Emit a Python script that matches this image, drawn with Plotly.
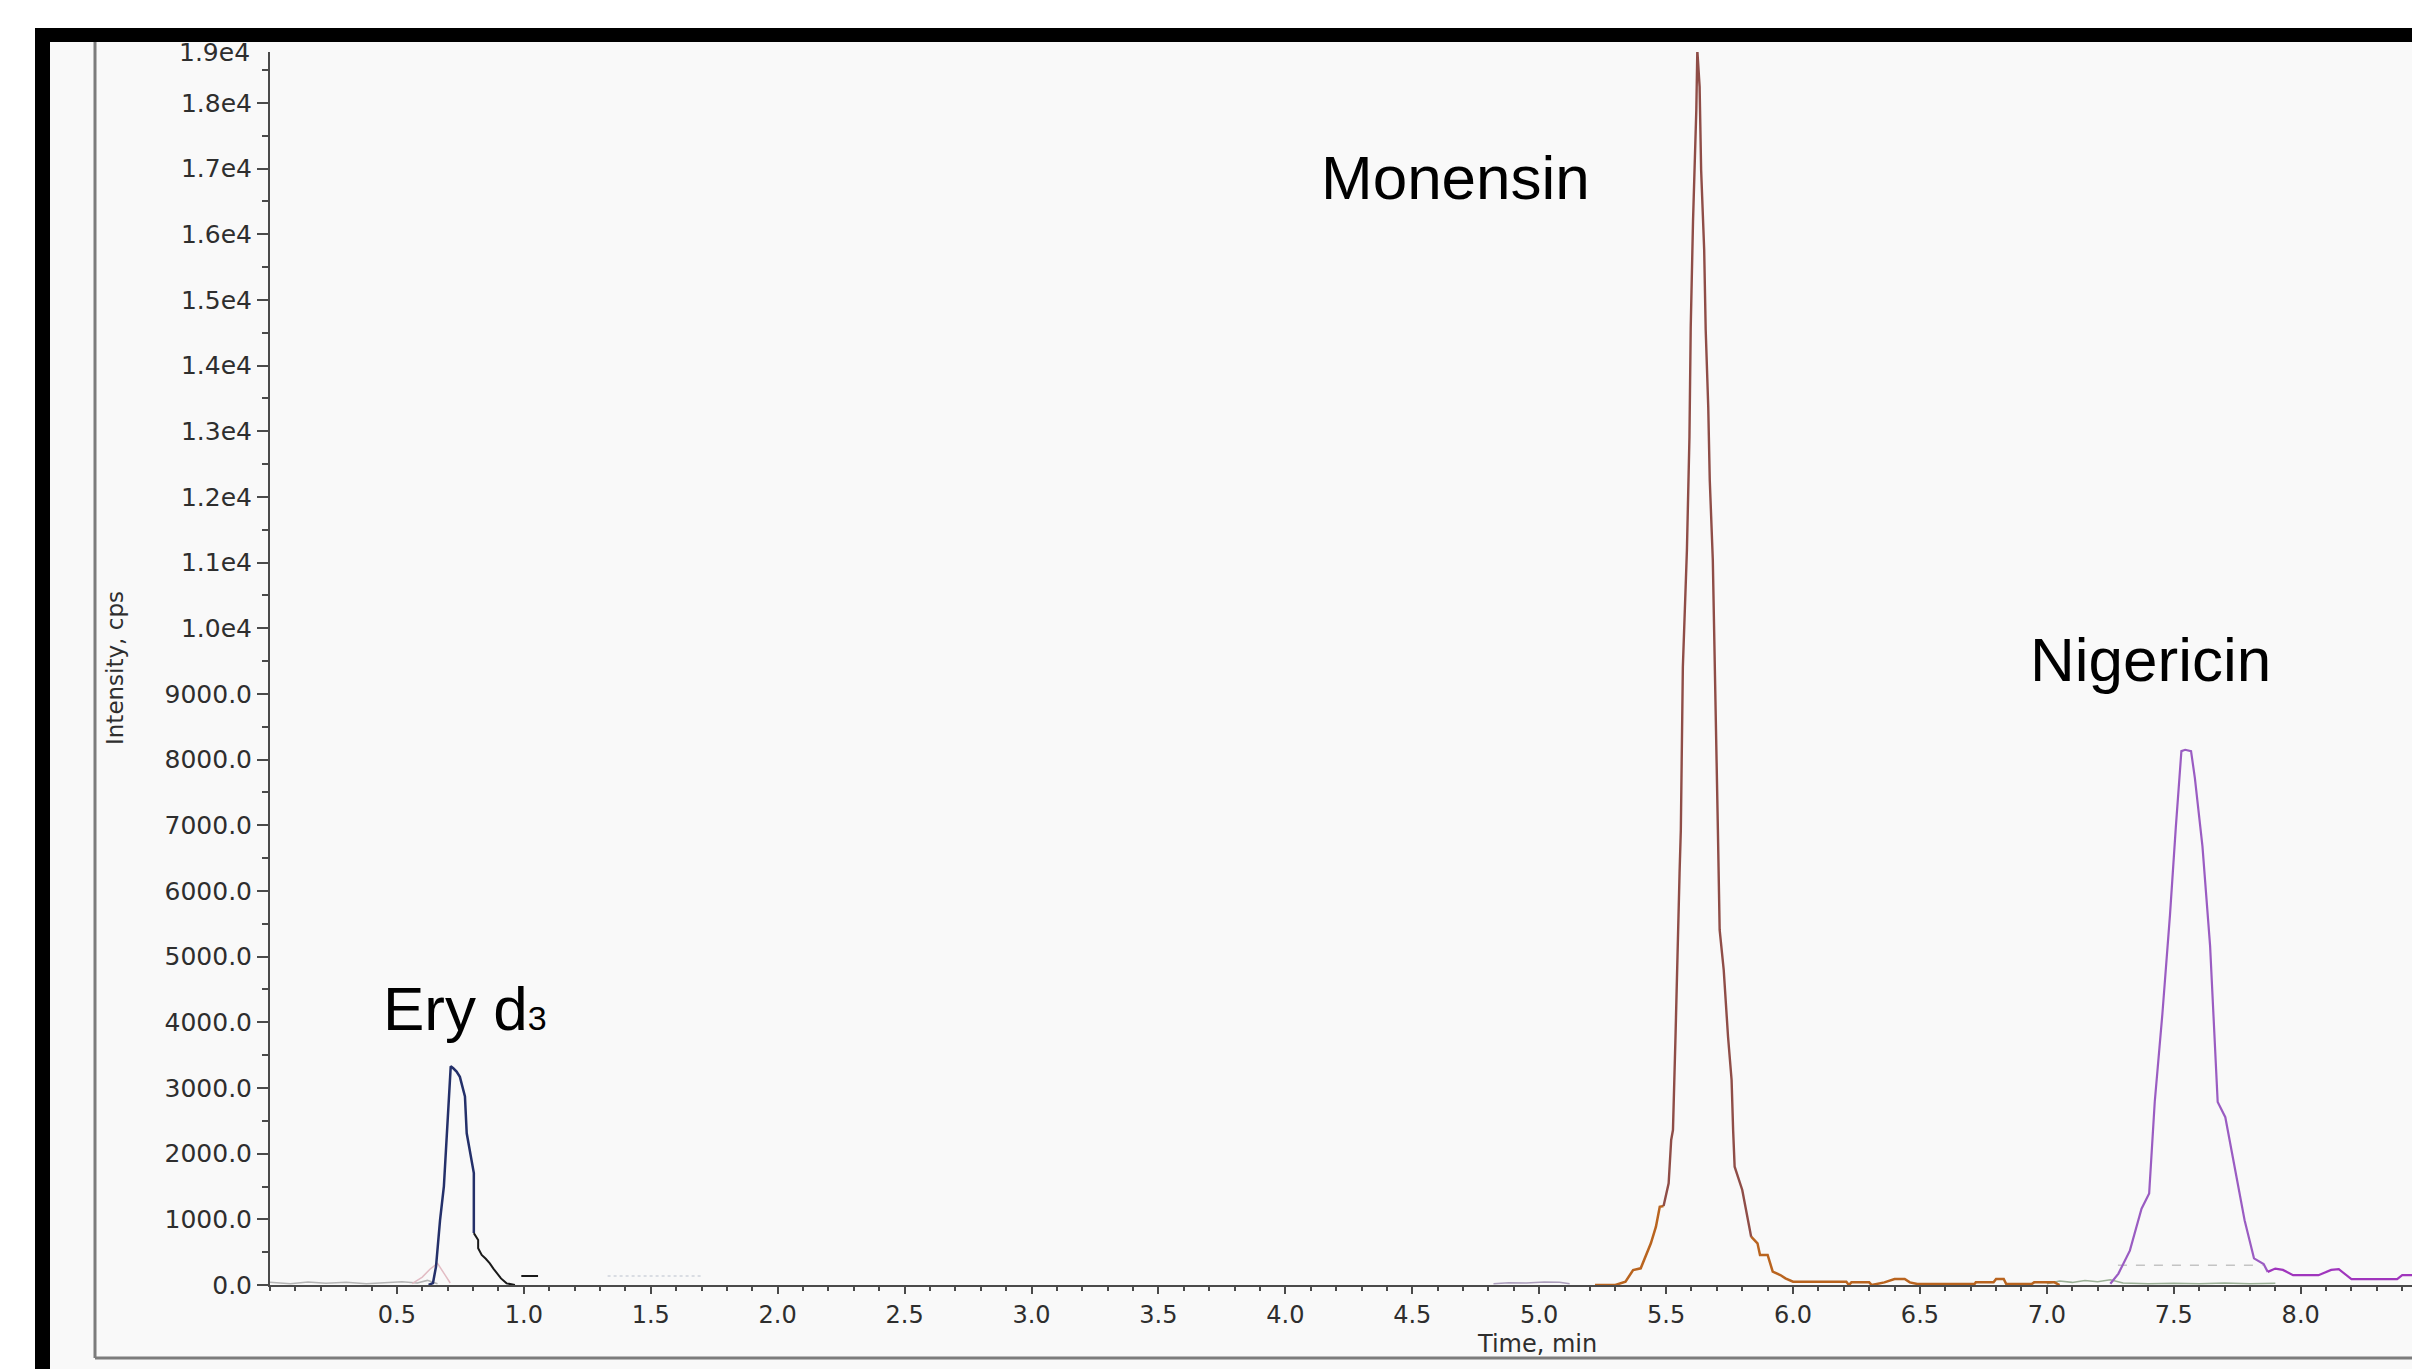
import plotly.graph_objects as go

# ---------------- data ----------------
# Ery d3 peak (navy) and its black step tail
ery_x = [0.625, 0.642, 0.654, 0.670, 0.685, 0.700, 0.712, 0.722, 0.735, 0.748, 0.768, 0.775, 0.803, 0.803]
ery_y = [0, 30, 280, 990, 1500, 2560, 3330, 3300, 3250, 3170, 2870, 2310, 1705, 790]
ery_tail_x = [0.803, 0.820, 0.820, 0.834, 0.850, 0.866, 0.880, 0.893, 0.910, 0.932, 0.965]
ery_tail_y = [790, 685, 560, 457, 400, 330, 250, 178, 100, 25, 0]
ery_dash_x = [0.99, 1.056]
ery_dash_y = [137, 137]

# faint baseline traces
base1_x = [0.0, 0.08, 0.15, 0.22, 0.30, 0.38, 0.45, 0.52, 0.58, 0.62, 0.66]
base1_y = [40, 20, 45, 25, 40, 20, 35, 50, 30, 70, 20]
pink_x = [0.56, 0.60, 0.63, 0.66, 0.69, 0.71]
pink_y = [20, 120, 240, 330, 150, 30]
grey_dash_x = [1.33, 1.70]
grey_dash_y = [137, 137]
base2_x = [4.82, 4.88, 4.95, 5.02, 5.08, 5.12]
base2_y = [20, 35, 30, 45, 40, 20]
base3_x = [7.00, 7.05, 7.10, 7.15, 7.20, 7.25, 7.30, 7.40, 7.50, 7.60, 7.70, 7.80, 7.90]
base3_y = [20, 60, 40, 70, 50, 80, 30, 20, 25, 20, 30, 20, 25]
grey_dash2_x = [7.28, 7.85]
grey_dash2_y = [300, 300]

# Monensin: orange-brown foot (left), red-brown peak, orange-brown tail (right)
mon_l_x = [5.22, 5.30, 5.34, 5.37, 5.40, 5.42, 5.44, 5.46, 5.475, 5.49]
mon_l_y = [0, 0, 50, 228, 254, 431, 635, 888, 1192, 1203]
mon_p_x = [5.49, 5.51, 5.52, 5.527, 5.537, 5.544, 5.553, 5.558, 5.566, 5.582, 5.592, 5.597,
           5.606, 5.619, 5.623, 5.632, 5.638, 5.650, 5.656, 5.666, 5.672, 5.684, 5.691,
           5.698, 5.704, 5.711, 5.727, 5.744, 5.758, 5.764, 5.770, 5.800, 5.835]
mon_p_y = [1203, 1550, 2208, 2360, 3781, 4999, 6269, 6929, 9415, 11193, 12918, 14593,
           16192, 17893, 18800, 18248, 16979, 15761, 14543, 13375, 12258, 11040, 9776,
           8299, 6929, 5406, 4797, 3781, 3122, 2360, 1801, 1447, 735]
mon_r_x = [5.835, 5.86, 5.87, 5.90, 5.92, 5.95, 5.97, 6.00, 6.21, 6.22, 6.23, 6.30, 6.31,
           6.36, 6.40, 6.44, 6.46, 6.49, 6.715, 6.72, 6.79, 6.80, 6.83, 6.84, 6.94, 6.95,
           7.03, 7.05]
mon_r_y = [735, 635, 457, 457, 203, 152, 101, 50, 50, 0, 40, 40, 0,
           40, 91, 91, 40, 15, 15, 40, 40, 91, 91, 15, 15, 40,
           40, 0]

# Nigericin (purple) and its tail
nig_x = [7.25, 7.282, 7.327, 7.373, 7.403, 7.425, 7.455, 7.485, 7.508, 7.53, 7.545, 7.568,
         7.583, 7.613, 7.643, 7.673, 7.703, 7.741, 7.779, 7.816, 7.854, 7.87]
nig_y = [20, 174, 523, 1161, 1394, 2787, 4123, 5633, 6968, 8130, 8150, 8130,
         7723, 6678, 5168, 2787, 2555, 1742, 987, 406, 319, 200]
nig_tail_x = [7.87, 7.90, 7.93, 7.97, 8.07, 8.12, 8.15, 8.20, 8.38, 8.40, 8.47]
nig_tail_y = [200, 250, 230, 150, 150, 230, 240, 90, 90, 150, 150]

# axis ticks
x_tickvals = [0.5, 1.0, 1.5, 2.0, 2.5, 3.0, 3.5, 4.0, 4.5, 5.0, 5.5, 6.0, 6.5, 7.0, 7.5, 8.0]
x_ticktext = ["0.5", "1.0", "1.5", "2.0", "2.5", "3.0", "3.5", "4.0", "4.5", "5.0",
              "5.5", "6.0", "6.5", "7.0", "7.5", "8.0"]
y_tickvals = [0, 1000, 2000, 3000, 4000, 5000, 6000, 7000, 8000, 9000,
              10000, 11000, 12000, 13000, 14000, 15000, 16000, 17000, 18000]
y_ticktext = ["0.0", "1000.0", "2000.0", "3000.0", "4000.0", "5000.0", "6000.0",
              "7000.0", "8000.0", "9000.0", "1.0e4", "1.1e4", "1.2e4", "1.3e4",
              "1.4e4", "1.5e4", "1.6e4", "1.7e4", "1.8e4"]
top_label = "1.9e4"

peak_labels = ["Ery d<span style='font-size:34px'>3</span>", "Monensin", "Nigericin"]
peak_label_x = [0.437, 4.67, 7.41]
peak_label_y = [4203, 16872, 9532]
peak_label_anchor = ["left", "center", "center"]

# ---------------- figure ----------------
OFF = 8  # default page body margin
W, H = 2420 - OFF, 1369 - OFF
PLOT_L, PLOT_R, PLOT_T, PLOT_B = 270, 2420, 52, 1285   # plot area in page pixels
L = PLOT_L - OFF
T = PLOT_T - OFF
R = (OFF + W) - PLOT_R
B = (OFF + H) - PLOT_B
PW, PH = W - L - R, H - T - B


def X(px):
    return (px - PLOT_L) / PW


def Y(py):
    return (PLOT_B - py) / PH


fig = go.Figure()


def line(x, y, color, width=2.0, dash=None):
    fig.add_trace(go.Scatter(x=x, y=y, mode="lines",
                             line=dict(color=color, width=width, dash=dash),
                             showlegend=False, hoverinfo="skip"))


line(base1_x, base1_y, "#b4b4b4", 1.5)
line(pink_x, pink_y, "#e2bcc4", 1.5)
line(grey_dash_x, grey_dash_y, "#cfd4dc", 1.5, "dot")
line(base2_x, base2_y, "#ab9dbb", 1.5)
line(base3_x, base3_y, "#9bb096", 1.5)
line(grey_dash2_x, grey_dash2_y, "#c4c4c4", 1.5, "dash")
line(ery_x, ery_y, "#24306a", 2.5)
line(ery_tail_x, ery_tail_y, "#1a1a1a", 2.0)
line(ery_dash_x, ery_dash_y, "#1a1a1a", 2.0)
line(mon_l_x, mon_l_y, "#b9641f", 2.5)
line(mon_r_x, mon_r_y, "#b9641f", 2.5)
line(mon_p_x, mon_p_y, "#8f4d47", 2.4)
line(nig_x, nig_y, "#9a5cc2", 2.2)
line(nig_tail_x, nig_tail_y, "#a036bd", 2.2)

# small marker on the y axis
fig.add_trace(go.Scatter(x=[-0.032], y=[560], mode="markers",
                         marker=dict(symbol="triangle-right", size=16, color="#24306a"),
                         cliponaxis=False, showlegend=False, hoverinfo="skip"))

tick_font = dict(family="DejaVu Sans", size=25, color="#2e2e2e")
xtick_font = dict(family="DejaVu Sans", size=24, color="#2e2e2e")
axis_col = "#4a4a4a"

fig.update_layout(
    width=W, height=H,
    margin=dict(l=L, r=R, t=T, b=B),
    paper_bgcolor="#f9f9f9",
    plot_bgcolor="#f9f9f9",
    xaxis=dict(range=[0, 8.47], showgrid=False, zeroline=False,
               showline=True, linecolor=axis_col, linewidth=2,
               ticks="outside", ticklen=7, tickwidth=2, tickcolor=axis_col,
               tickmode="array", tickvals=x_tickvals, ticktext=x_ticktext,
               tickfont=xtick_font,
               minor=dict(tickmode="linear", tick0=0, dtick=0.1, ticks="outside",
                          ticklen=4, tickwidth=1.5, tickcolor=axis_col, showgrid=False)),
    yaxis=dict(range=[0, 18776], showgrid=False, zeroline=False,
               showline=True, linecolor=axis_col, linewidth=2,
               ticks="outside", ticklen=11, tickwidth=2, tickcolor=axis_col,
               tickmode="array", tickvals=y_tickvals, ticktext=y_ticktext,
               tickfont=tick_font,
               minor=dict(tickmode="linear", tick0=0, dtick=500, ticks="outside",
                          ticklen=6, tickwidth=1.5, tickcolor=axis_col, showgrid=False)),
)

shapes = [
    dict(type="rect", xref="paper", yref="paper", x0=X(0), x1=X(2420), y0=Y(0), y1=Y(28),
         fillcolor="white", line=dict(width=0), layer="above"),
    dict(type="rect", xref="paper", yref="paper", x0=X(0), x1=X(35), y0=Y(0), y1=Y(1369),
         fillcolor="white", line=dict(width=0), layer="above"),
    dict(type="rect", xref="paper", yref="paper", x0=X(35), x1=X(2420), y0=Y(28), y1=Y(42),
         fillcolor="black", line=dict(width=0), layer="above"),
    dict(type="rect", xref="paper", yref="paper", x0=X(35), x1=X(50), y0=Y(28), y1=Y(1369),
         fillcolor="black", line=dict(width=0), layer="above"),
    dict(type="line", xref="paper", yref="paper", x0=X(95), x1=X(95), y0=Y(42), y1=Y(1358),
         line=dict(color="#7c7c7c", width=3), layer="above"),
    dict(type="line", xref="paper", yref="paper", x0=X(95), x1=X(2420), y0=Y(1358), y1=Y(1358),
         line=dict(color="#7c7c7c", width=3), layer="above"),
]
fig.update_layout(shapes=shapes)

annotations = []
for txt, ax, ay, anc in zip(peak_labels, peak_label_x, peak_label_y, peak_label_anchor):
    annotations.append(dict(text=txt, x=ax, y=ay, xref="x", yref="y", showarrow=False,
                            xanchor=anc, yanchor="middle",
                            font=dict(family="Arial, Liberation Sans", size=62, color="black")))
annotations.append(dict(text="Intensity, cps", x=X(115), y=Y(668), xref="paper", yref="paper",
                        textangle=-90, showarrow=False, xanchor="center", yanchor="middle",
                        font=dict(family="DejaVu Sans", size=23, color="#2e2e2e")))
annotations.append(dict(text="Time, min", x=4.99, y=Y(1344), xref="x", yref="paper",
                        showarrow=False, xanchor="center", yanchor="middle",
                        font=dict(family="DejaVu Sans", size=24, color="#2e2e2e")))
annotations.append(dict(text=top_label, x=X(252), y=Y(52), xref="paper", yref="paper",
                        showarrow=False, xanchor="right", yanchor="middle",
                        font=tick_font))
fig.update_layout(annotations=annotations)

fig.write_html("out.html")
